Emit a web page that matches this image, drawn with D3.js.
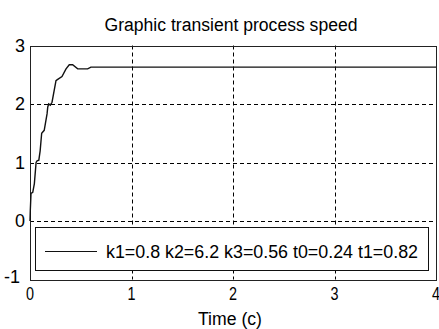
<!DOCTYPE html>
<html>
<head>
<meta charset="utf-8">
<script src="https://cdn.jsdelivr.net/npm/d3@7"></script>
<style>
  body { margin: 0; background: #fff; }
  svg { display: block; font-family: "Liberation Sans", Arial, sans-serif; }
</style>
</head>
<body>
<svg id="chart" width="439" height="329"></svg>
<script>
// values
const timeValues = [0, 0.003, 0.01, 0.027, 0.043, 0.06, 0.07, 0.087, 0.1, 0.115, 0.14, 0.168, 0.175,
  0.184, 0.2, 0.217, 0.256, 0.273, 0.315, 0.355, 0.387, 0.42, 0.47, 0.568, 0.6, 4];
const speedValues = [0, 0.18, 0.47, 0.49, 0.64, 1.0, 1.03, 1.04, 1.2, 1.5, 1.55, 1.83, 1.95,
  2.0, 1.98, 2.03, 2.4, 2.42, 2.47, 2.6, 2.67, 2.67, 2.6, 2.6, 2.63, 2.63];
const xTicks = [0, 1, 2, 3, 4];
const yTicks = [-1, 0, 1, 2, 3];
const seriesLabel = 'k1=0.8 k2=6.2 k3=0.56 t0=0.24 t1=0.82';
const title = 'Graphic transient process speed';
const xLabel = 'Time (c)';

const width = 439, height = 329;
const margin = { top: 45.5, right: 3, bottom: 49.5, left: 30 };

const svg = d3.select('#chart');

const x = d3.scaleLinear().domain([0, 4]).range([margin.left, width - margin.right]);
const y = d3.scaleLinear().domain([-1, 3]).range([height - margin.bottom, margin.top]);

const data = timeValues.map((t, i) => ({ t, v: speedValues[i] }));

// grid
const grid = svg.append('g').attr('stroke', '#000').attr('stroke-width', 1).attr('stroke-dasharray', '4,3');
grid.selectAll('line.gx')
  .data(xTicks.slice(1, -1))
  .join('line')
  .attr('x1', d => Math.round(x(d)) + 0.5).attr('x2', d => Math.round(x(d)) + 0.5)
  .attr('y1', y(3)).attr('y2', y(-1));
grid.selectAll('line.gy')
  .data(yTicks.slice(1, -1))
  .join('line')
  .attr('y1', d => Math.round(y(d)) + 0.5).attr('y2', d => Math.round(y(d)) + 0.5)
  .attr('x1', x(0)).attr('x2', x(4));

// box
svg.append('rect')
  .attr('x', Math.round(x(0)) + 0.5).attr('y', Math.round(y(3)) + 0.5)
  .attr('width', Math.round(x(4)) - Math.round(x(0)))
  .attr('height', Math.round(y(-1)) - Math.round(y(3)))
  .attr('fill', 'none').attr('stroke', '#222');

// curve
const line = d3.line().x(d => x(d.t)).y(d => y(d.v));
svg.append('path')
  .datum(data)
  .attr('d', line)
  .attr('fill', 'none')
  .attr('stroke', '#111')
  .attr('stroke-width', 1.4);

// tick labels
svg.append('g')
  .selectAll('text')
  .data(xTicks)
  .join('text')
  .attr('x', d => x(d))
  .attr('y', y(-1) + 20)
  .attr('text-anchor', 'middle')
  .attr('textLength', 8).attr('lengthAdjust', 'spacingAndGlyphs')
  .style('font-size', '18px')
  .text(d => d);

svg.append('g')
  .selectAll('text')
  .data(yTicks)
  .join('text')
  .attr('x', d => d < 0 ? x(0) - 10 : x(0) - 5)
  .attr('y', d => d < 0 ? y(d) + 3 : y(d) + 6)
  .attr('text-anchor', 'end')
  .style('font-size', '18px')
  .text(d => d);

// title and axis label
svg.append('text')
  .attr('x', 231).attr('y', 31)
  .attr('text-anchor', 'middle')
  .attr('textLength', 253).attr('lengthAdjust', 'spacingAndGlyphs')
  .style('font-size', '18px')
  .text(title);

svg.append('text')
  .attr('x', 230).attr('y', 325)
  .attr('text-anchor', 'middle')
  .attr('textLength', 64).attr('lengthAdjust', 'spacingAndGlyphs')
  .style('font-size', '18px')
  .text(xLabel);

// legend
const legend = svg.append('g');
legend.append('rect')
  .attr('x', 35.5).attr('y', 227.5)
  .attr('width', 393).attr('height', 43)
  .attr('fill', '#fff').attr('stroke', '#111');
legend.append('line')
  .attr('x1', 45).attr('x2', 97)
  .attr('y1', 251.5).attr('y2', 251.5)
  .attr('stroke', '#111').attr('stroke-width', 1.2);
legend.append('text')
  .attr('x', 106).attr('y', 258)
  .attr('textLength', 312).attr('lengthAdjust', 'spacingAndGlyphs')
  .style('font-size', '18px')
  .text(seriesLabel);
</script>
</body>
</html>
